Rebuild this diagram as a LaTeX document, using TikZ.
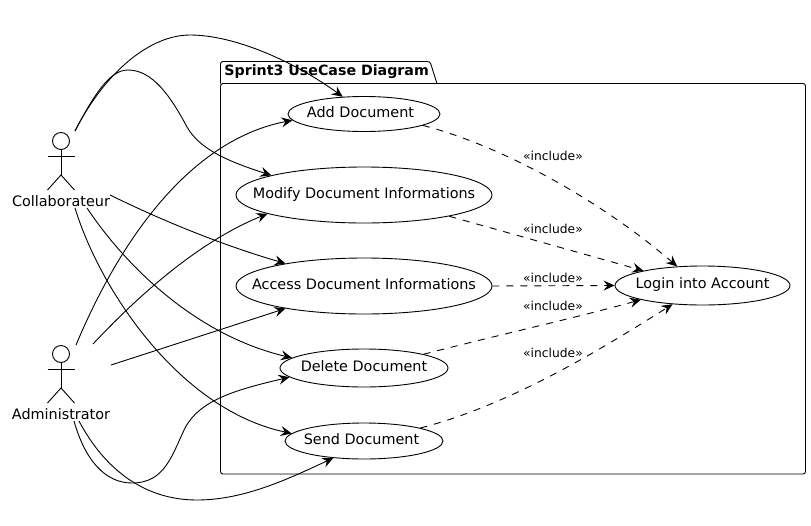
\documentclass[tikz,border=0pt]{standalone}
\usepackage{fontspec}
\setmainfont{DejaVu Sans}
\usetikzlibrary{arrows.meta,shapes.geometric}
\tikzset{
	usecase/.style n args={3}{ellipse, draw, inner sep=0pt, minimum width=#1, minimum height=#2, label={[text height=10pt, text depth=3.5pt]center:#3}},
	actorname/.style={inner sep=0pt},
	inclabel/.style={inner sep=0pt, font=\fontsize{12.3}{14}\selectfont},
	uses/.style={-{Stealth[length=11pt,width=10pt,inset=4pt]}},
	includes/.style={uses, dash pattern=on 7pt off 7pt},
}
\def\stickfigure(#1,#2){
	\draw (#1, #2) circle (8.5);
	\draw (#1, #2+8.5) -- (#1, #2+34);
	\draw (#1-13.5, #2+15) -- (#1+13.5, #2+15);
	\draw (#1-13.5, #2+49) -- (#1, #2+34) -- (#1+13.5, #2+49);
}

\begin{document}
\begin{tikzpicture}[x=1pt, y=-1pt, line width=0.9pt, font=\fontsize{14.4}{16}\selectfont]
		\useasboundingbox (0, 0) rectangle (811, 525);
		
		%%%%% PACKAGE %%%%%
		\draw[rounded corners=2.5] (220.5, 83.5) -- (220.5, 61.5) -- (430, 61.5) -- (437, 83.5);
		\draw[rounded corners=2.5] (220.5, 83.5) rectangle (805.5, 474);
		\node[inner sep=0pt, anchor=west, font=\fontsize{14.2}{16}\selectfont\bfseries] (pkgTitle) at (224, 71.5) {Sprint3 UseCase Diagram};
		
		%%%%% ACTORS %%%%%
		\stickfigure(61,141)
		\node[actorname] (collab) at (61, 201) {Collaborateur};
		\stickfigure(61,354)
		\node[actorname] (admin) at (61, 414) {Administrator};
		
		\coordinate (collabTop) at (75, 131);
		\coordinate (collabRight) at (110, 195);
		\coordinate (collabBelow) at (87, 208);
		\coordinate (collabLow) at (75, 208);
		\coordinate (adminTop) at (76, 345);
		\coordinate (adminUpper) at (93, 344);
		\coordinate (adminRight) at (111, 365);
		\coordinate (adminLow) at (74, 421);
		\coordinate (adminBelow) at (79, 421);
		
		%%%%% USE CASES %%%%%
		\node[usecase={152pt}{35pt}{Add Document\kern7pt}] (addDoc) at (364, 114) {};
		\node[usecase={256pt}{56pt}{Modify Document Informations}] (modifyDoc) at (364, 195) {};
		\node[usecase={256pt}{56pt}{Access Document Informations}] (accessDoc) at (364, 286) {};
		\node[usecase={168pt}{38pt}{Delete Document}] (deleteDoc) at (364, 368) {};
		\node[usecase={158pt}{36pt}{Send Document\kern5pt}] (sendDoc) at (364, 441) {};
		\node[usecase={175pt}{39pt}{Login into Account}] (login) at (702.5, 285.5) {};
		
		%%%%% COLLABORATEUR LINKS %%%%%
		\draw[uses] (collabTop) .. controls (105, 72) and (150, 35) .. (190, 35) .. controls (235, 35) and (295, 62) .. (addDoc.141);
		\draw[uses] (collabTop) .. controls (95, 93) and (110, 70) .. (128, 70) .. controls (152, 70) and (170, 95) .. (187, 127) .. controls (200, 150) and (230, 162) .. (modifyDoc.168);
		\draw[uses] (collabRight) .. controls (165, 222) and (225, 246) .. (accessDoc.164);
		\draw[uses] (collabBelow) .. controls (125, 265) and (195, 335) .. (deleteDoc.172);
		\draw[uses] (collabLow) .. controls (100, 290) and (180, 410) .. (sendDoc.174);
		
		%%%%% ADMINISTRATOR LINKS %%%%%
		\draw[uses] (adminTop) .. controls (120, 240) and (190, 140) .. (addDoc.185);
		\draw[uses] (adminUpper) .. controls (125, 310) and (190, 245) .. (modifyDoc.191);
		\draw[uses] (adminRight) -- (accessDoc.196);
		\draw[uses] (adminLow) .. controls (85, 460) and (105, 483) .. (132, 483) .. controls (165, 483) and (172, 455) .. (185, 428) .. controls (200, 400) and (235, 390) .. (deleteDoc.187);
		\draw[uses] (adminBelow) .. controls (105, 470) and (145, 500) .. (197, 500) .. controls (245, 500) and (290, 478) .. (sendDoc.209);
		
		%%%%% INCLUDES %%%%%
		\draw[includes] (addDoc.-11) .. controls (500, 145) and (600, 200) .. (login.143);
		\draw[includes] (modifyDoc.-14) -- (login.166);
		\draw[includes] (accessDoc.0) -- (login.180);
		\draw[includes] (deleteDoc.13) .. controls (490, 337) and (575, 318) .. (login.193);
		\draw[includes] (sendDoc.13) .. controls (510, 405) and (600, 350) .. (login.212);
		
		\node[inclabel] (incAdd) at (553, 156) {«include»};
		\node[inclabel] (incModify) at (553, 229) {«include»};
		\node[inclabel] (incAccess) at (553, 278) {«include»};
		\node[inclabel] (incDelete) at (553, 305.5) {«include»};
		\node[inclabel] (incSend) at (553, 353) {«include»};
	\end{tikzpicture}
\end{document}
